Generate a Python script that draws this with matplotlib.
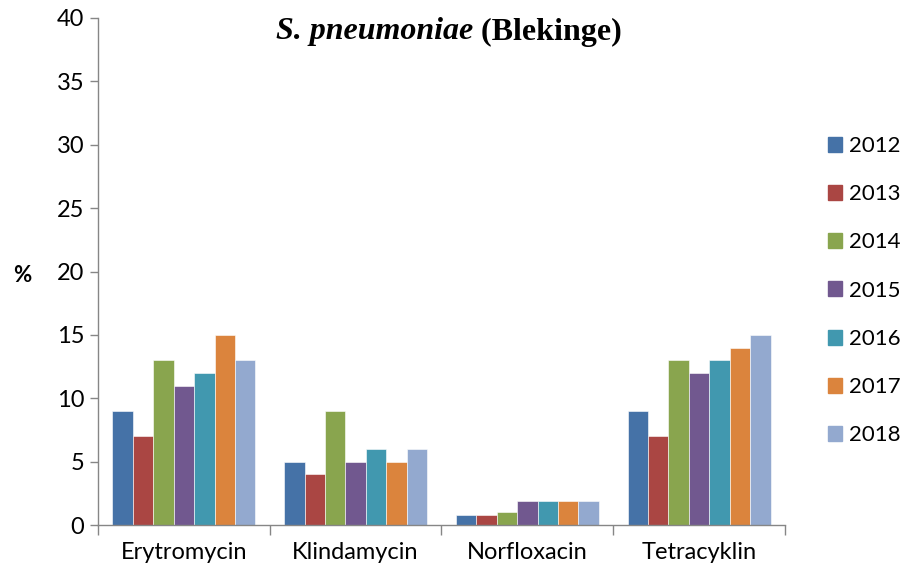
import numpy as np
import matplotlib.pyplot as plt
from matplotlib.patches import Patch

# data
categories = ['Erytromycin', 'Klindamycin', 'Norfloxacin', 'Tetracyklin']
years = ['2012', '2013', '2014', '2015', '2016', '2017', '2018']
v2012 = [9, 5, 0.8, 9]
v2013 = [7, 4, 0.8, 7]
v2014 = [13, 9, 1.0, 13]
v2015 = [11, 5, 1.9, 12]
v2016 = [12, 6, 1.9, 13]
v2017 = [15, 5, 1.9, 14]
v2018 = [13, 6, 1.9, 15]
colors = ['#4572A7', '#AA4643', '#89A54E', '#71588F', '#4198AF', '#DB843D', '#93A9CF']

series = [v2012, v2013, v2014, v2015, v2016, v2017, v2018]

plt.rcParams['font.family'] = ['Lato', 'DejaVu Sans']
fig = plt.figure(figsize=(9.04, 5.74), dpi=100)
ax = fig.add_axes([98 / 904, 1 - 525 / 574, (785 - 98) / 904, (525 - 18) / 574])

x = np.arange(len(categories))
bw = 0.119
for i, vals in enumerate(series):
    ax.bar(x + (i - 3) * bw, vals, width=bw, color=colors[i], label=years[i],
           edgecolor='white', linewidth=0.4)

ax.set_xlim(-0.5, len(categories) - 0.5)
ax.set_ylim(0, 40)
ax.set_yticks(np.arange(0, 41, 5))
ax.set_xticks(np.arange(-0.5, len(categories), 1.0))
ax.set_xticklabels([])
ax.set_xticks(x, minor=True)
ax.set_xticklabels(categories, minor=True)
ax.tick_params(axis='x', which='minor', length=0, pad=12, labelsize=17)
ax.tick_params(axis='x', which='major', length=7, color='#868686', width=1)
ax.tick_params(axis='y', length=6, color='#868686', width=1, labelsize=17, pad=4)
for s in ['top', 'right']:
    ax.spines[s].set_visible(False)
for s in ['left', 'bottom']:
    ax.spines[s].set_color('#868686')
    ax.spines[s].set_linewidth(1)

fig.text(22 / 904, 1 - 276 / 574, '%', fontsize=16, fontweight='bold', ha='center', va='center')

# title: italic species name followed by upright region
fig.canvas.draw()
r = fig.canvas.get_renderer()
t1 = fig.text(0, 1 - 32 / 574, 'S. pneumoniae', family='Liberation Serif', fontsize=23,
              fontweight='bold', fontstyle='italic', va='center')
t2 = fig.text(0, 1 - 32 / 574, ' (Blekinge)', family='Liberation Serif', fontsize=23,
              fontweight='bold', va='center')
w1 = t1.get_window_extent(r).width
w2 = t2.get_window_extent(r).width
x0 = 449 - (w1 + w2) / 2
t1.set_x(x0 / 904)
t2.set_x((x0 + w1) / 904)

handles = [Patch(color=c, label=y) for c, y in zip(colors, years)]
fig.legend(handles=handles, loc='upper left', bbox_to_anchor=(828 / 904, 1 - 136 / 574),
           frameon=False, fontsize=16, handlelength=0.65, handleheight=0.65,
           handletextpad=0.3, labelspacing=1.27, borderpad=0, borderaxespad=0)

fig.savefig('out.png', dpi=100)
